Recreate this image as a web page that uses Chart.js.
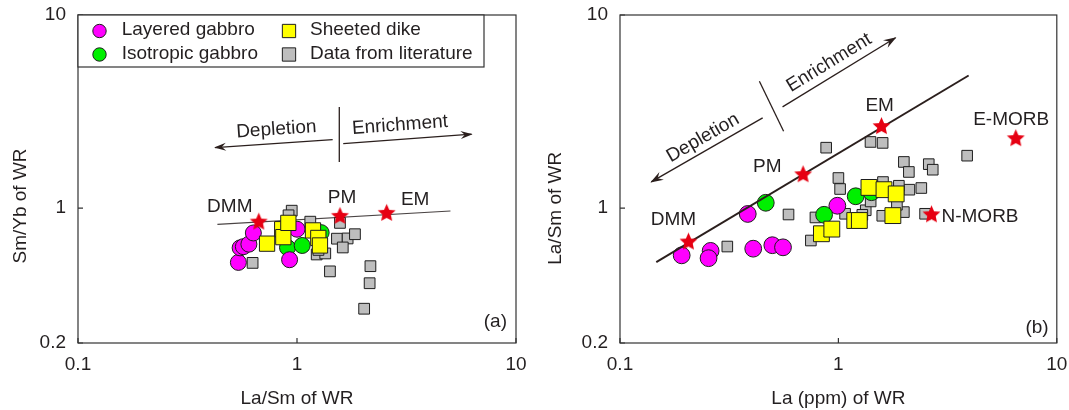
<!DOCTYPE html>
<html>
<head>
<meta charset="utf-8">
<script src="https://cdn.jsdelivr.net/npm/chart.js@4.4.1/dist/chart.umd.min.js"></script>
<style>
  html, body { margin: 0; padding: 0; background: #fff; }
  #fig { position: relative; width: 1069px; height: 410px; overflow: hidden; background: #fff; }
  #fig canvas { position: absolute; top: 0; }
</style>
</head>
<body>
<div id="fig">
  <canvas id="panelA" width="540" height="410" style="left:0"></canvas>
  <canvas id="panelB" width="529" height="410" style="left:540px"></canvas>
</div>
<script>
// ---------- shared axis ticks ----------
const xTickValues = [0.1, 1, 10];
const xTickLabels = ['0.1', '1', '10'];
const yTickValues = [0.2, 1, 10];
const yTickLabels = ['0.2', '1', '10'];

// ---------- panel (a): Sm/Yb vs La/Sm ----------
const layeredA = [[0.540,0.523],[0.550,0.622],[0.569,0.631],[0.603,0.650],[0.632,0.743],[0.925,0.540],[1.000,0.777]];
const isotropicA = [[0.905,0.624],[1.056,0.640],[1.289,0.746]];
const dikeA = [[0.730,0.654],[0.856,0.777],[0.866,0.707],[0.913,0.838],[1.183,0.766],[1.251,0.700],[1.273,0.640]];
const literatureA = [[0.946,0.969],[0.915,0.917],[1.150,0.850],[1.571,0.838],[1.522,0.694],[1.703,0.696],[1.618,0.625],
  [1.839,0.732],[1.230,0.575],[1.346,0.582],[1.414,0.470],[0.627,0.520],[2.164,0.500],[2.146,0.408],[2.026,0.301],[1.253,0.607]];
const reservoirNamesA = ['DMM', 'PM', 'EM'];
const reservoirsA = [[0.669,0.846],[1.571,0.906],[2.566,0.939]];
const trendA = [[0.433,0.823],[5.02,0.965]];
const depletionA = [[1.455,2.264],[0.4225,2.058]];
const enrichmentA = [[1.626,2.159],[6.27,2.413]];
const dividerA = [[1.56,3.34],[1.56,1.733]];

// ---------- panel (b): La/Sm vs La ----------
const layeredB = [[0.1916,0.569],[0.260,0.600],[0.2544,0.550],[0.3845,0.932],[0.4074,0.616],[0.4983,0.642],[0.5576,0.626],[0.989,1.028]];
const isotropicB = [[0.465,1.065],[0.860,0.923],[1.200,1.151],[1.417,1.208]];
const dikeB = [[0.836,0.736],[0.933,0.778],[1.188,0.862],[1.247,0.862],[1.380,1.279],[1.617,1.245],[1.839,1.184],[1.776,0.914]];
const literatureB = [[0.310,0.632],[0.591,0.926],[0.748,0.679],[0.785,0.894],[0.879,2.055],[1.000,1.431],[1.018,1.255],
  [1.403,2.200],[1.594,2.175],[1.994,1.733],[2.102,1.538],[2.593,1.688],[2.704,1.580],[2.397,1.270],[2.113,1.245],
  [3.886,1.868],[1.600,1.364],[1.892,1.305],[1.334,0.974],[1.287,0.923],[1.588,0.912],[1.994,0.953],[2.494,0.934],
  [1.405,1.082],[1.073,0.934],[1.853,1.040]];
const reservoirNamesB = ['DMM', 'PM', 'EM', 'E-MORB', 'N-MORB'];
const reservoirsB = [[0.2058,0.667],[0.689,1.488],[1.575,2.642],[6.49,2.289],[2.668,0.923]];
const trendB = [[0.1466,0.5247],[3.948,4.859]];
const enrichmentB = [[0.555,3.342],[1.827,7.625]];
const depletionB = [[0.45,2.931],[0.139,1.366]];
const dividerB = [[0.4347,4.54],[0.5612,2.498]];

// ---------- styling ----------
const FONT = "'Liberation Sans', Arial, Helvetica, sans-serif";
const INK = '#231f20';
const FRAME = '#333333';
const ARROW = '#2b1f1d';
Chart.defaults.font.family = FONT;
Chart.defaults.font.size = 19;
Chart.defaults.color = INK;

// filled five-pointed star used as a point style
function starImage(R, fill) {
  const size = Math.ceil(R * 2) + 2;
  const c = document.createElement('canvas');
  c.width = size; c.height = size;
  const g = c.getContext('2d');
  const cx = size / 2, cy = size / 2;
  g.beginPath();
  for (let i = 0; i < 10; i++) {
    const r = i % 2 === 0 ? R : R * 0.47;
    const a = -Math.PI / 2 + i * Math.PI / 5;
    g.lineTo(cx + r * Math.cos(a), cy + r * Math.sin(a));
  }
  g.closePath();
  g.fillStyle = fill;
  g.fill();
  return c;
}
const STAR = starImage(9.4, '#e60012');

const toXY = arr => arr.map(([x, y]) => ({ x, y }));

function pointsSet(key, label, arr, style, radius, fill, order) {
  return { key, label, data: toXY(arr), pointStyle: style, pointRadius: radius,
    backgroundColor: fill, borderColor: '#1e1e1e', borderWidth: 1, order, showLine: false };
}
function starSet(arr) {
  return { key: 'stars', data: toXY(arr), pointStyle: STAR, pointRadius: 9, borderWidth: 0, order: 0, showLine: false };
}
function lineSet(key, arr, width, color, order, head) {
  return { key, data: toXY(arr), showLine: true, pointRadius: 0, borderColor: color, borderWidth: width,
    fill: false, tension: 0, order, arrowHead: head || null };
}

function axes(xTitle, yWidth) {
  return {
    x: {
      type: 'logarithmic', position: 'bottom', min: 0.1, max: 10, bounds: 'data',
      grid: { display: false, drawTicks: false }, border: { display: false },
      afterBuildTicks: s => { s.ticks = xTickValues.map(v => ({ value: v })); },
      afterFit: s => { s.height = 67; s.paddingLeft = 0; s.paddingRight = 0; },
      ticks: { padding: 10.5, color: INK, font: { size: 19 }, maxRotation: 0, autoSkip: false,
        callback: (v, i) => xTickLabels[i] },
      title: { display: true, text: xTitle, color: INK, font: { size: 19 }, padding: { top: 0, bottom: 0 } }
    },
    y: {
      type: 'logarithmic', position: 'left', min: 0.2, max: 10, bounds: 'data',
      grid: { display: false, drawTicks: false }, border: { display: false },
      afterBuildTicks: s => { s.ticks = yTickValues.map(v => ({ value: v })); },
      afterFit: s => { s.width = yWidth; s.paddingTop = 0; s.paddingBottom = 0; },
      ticks: { padding: 12, color: INK, font: { size: 19 }, autoSkip: false,
        callback: (v, i) => yTickLabels[i] },
      title: { display: false }
    }
  };
}

// plot frame with short inward tick marks
const framePlugin = {
  id: 'frame',
  beforeDatasetsDraw(chart) {
    const { ctx, chartArea: a, scales } = chart;
    ctx.save();
    ctx.strokeStyle = FRAME;
    ctx.lineWidth = 1.2;
    ctx.strokeRect(a.left, a.top, a.right - a.left, a.bottom - a.top);
    ctx.beginPath();
    scales.x.ticks.forEach(t => {
      const px = scales.x.getPixelForValue(t.value);
      ctx.moveTo(px, a.bottom); ctx.lineTo(px, a.bottom - 5);
    });
    scales.y.ticks.forEach(t => {
      const py = scales.y.getPixelForValue(t.value);
      ctx.moveTo(a.left, py); ctx.lineTo(a.left + 5, py);
    });
    ctx.stroke();
    ctx.restore();
  }
};

// barbed heads on the trend arrows
const arrowPlugin = {
  id: 'arrowHeads',
  afterDatasetsDraw(chart) {
    const ctx = chart.ctx;
    chart.data.datasets.forEach((ds, i) => {
      if (!ds.arrowHead) return;
      const pts = chart.getDatasetMeta(i).data;
      const p0 = pts[pts.length - 2], p1 = pts[pts.length - 1];
      const ang = Math.atan2(p1.y - p0.y, p1.x - p0.x);
      const L = ds.arrowHead.length, W = ds.arrowHead.width;
      ctx.save();
      ctx.translate(p1.x, p1.y);
      ctx.rotate(ang);
      ctx.fillStyle = ds.borderColor;
      ctx.beginPath();
      ctx.moveTo(1, 0);
      ctx.lineTo(-L, -W / 2);
      ctx.lineTo(-L * 0.62, 0);
      ctx.lineTo(-L, W / 2);
      ctx.closePath();
      ctx.fill();
      ctx.restore();
    });
  }
};

// text: arrow captions, reservoir names, panel tag and vertical axis title
const notesPlugin = {
  id: 'notes',
  afterDatasetsDraw(chart, args, o) {
    const { ctx, chartArea: a, scales: { x, y } } = chart;
    const dsIndex = key => chart.data.datasets.findIndex(d => d.key === key);
    ctx.save();
    ctx.fillStyle = INK;
    ctx.font = `19px ${FONT}`;
    ctx.textBaseline = 'middle';
    (o.captions || []).forEach(n => {
      const px = x.getPixelForValue(n.at[0]), py = y.getPixelForValue(n.at[1]);
      const pts = chart.getDatasetMeta(dsIndex(n.along)).data;
      let ang = Math.atan2(pts[1].y - pts[0].y, pts[1].x - pts[0].x);
      if (Math.abs(ang) > Math.PI / 2) ang += Math.PI;
      ctx.save();
      ctx.translate(px, py);
      ctx.rotate(ang);
      ctx.textAlign = 'center';
      ctx.fillText(n.text, 0, 0);
      ctx.restore();
    });
    if (o.names) {
      const pts = chart.getDatasetMeta(dsIndex('stars')).data;
      o.names.forEach((name, i) => {
        const off = o.nameOffsets[i];
        ctx.textAlign = off[2] || 'center';
        ctx.fillText(name, pts[i].x + off[0], pts[i].y + off[1]);
      });
    }
    if (o.tag) {
      ctx.textAlign = 'right';
      ctx.fillText(o.tag.text, a.right + o.tag.dx, a.bottom + o.tag.dy);
    }
    if (o.yTitle) {
      ctx.save();
      ctx.translate(o.yTitle.x, o.yTitle.y);
      ctx.rotate(-Math.PI / 2);
      ctx.textAlign = 'center';
      ctx.fillText(o.yTitle.text, 0, 0);
      ctx.restore();
    }
    ctx.restore();
  }
};

// boxed two-column legend in the upper-left corner of the plot
const boxLegend = {
  id: 'boxLegend',
  afterDraw(chart, args, o) {
    if (!o.items) return;
    const { ctx, chartArea: a } = chart;
    ctx.save();
    ctx.fillStyle = '#fff';
    ctx.fillRect(a.left, a.top, o.width, o.height);
    ctx.strokeStyle = FRAME;
    ctx.lineWidth = 1.2;
    ctx.strokeRect(a.left, a.top, o.width, o.height);
    ctx.font = `19px ${FONT}`;
    ctx.textBaseline = 'middle';
    ctx.textAlign = 'left';
    o.items.forEach(it => {
      const ds = chart.data.datasets.find(d => d.key === it.key);
      const mx = a.left + o.markerX[it.col], my = a.top + o.markerY[it.row];
      ctx.fillStyle = ds.backgroundColor;
      ctx.strokeStyle = ds.borderColor;
      ctx.lineWidth = 1;
      ctx.beginPath();
      if (ds.pointStyle === 'circle') {
        ctx.arc(mx, my, it.size / 2, 0, Math.PI * 2);
      } else {
        ctx.rect(mx - it.size / 2, my - it.size / 2, it.size, it.size);
      }
      ctx.fill();
      ctx.stroke();
      ctx.fillStyle = INK;
      ctx.fillText(ds.label, a.left + o.textX[it.col], a.top + o.textY[it.row]);
    });
    ctx.restore();
  }
};

const MAGENTA = '#ff00ff', GREEN = '#00f000', YELLOW = '#ffff00', GREY = '#bebebe';

// ---------- chart (a) ----------
new Chart(document.getElementById('panelA'), {
  type: 'scatter',
  data: {
    datasets: [
      starSet(reservoirsA),
      pointsSet('dike', 'Sheeted dike', dikeA, 'rect', 10.8, YELLOW, 1),
      pointsSet('layered', 'Layered gabbro', layeredA, 'circle', 8, MAGENTA, 2),
      pointsSet('isotropic', 'Isotropic gabbro', isotropicA, 'circle', 8, GREEN, 3),
      pointsSet('literature', 'Data from literature', literatureA, 'rect', 7.6, GREY, 4),
      lineSet('depletion', depletionA, 1.3, ARROW, 5, { length: 11, width: 8 }),
      lineSet('enrichment', enrichmentA, 1.3, ARROW, 5, { length: 11, width: 8 }),
      lineSet('divider', dividerA, 1.3, ARROW, 5),
      lineSet('trend', trendA, 1.1, '#4a4444', 6)
    ]
  },
  options: {
    responsive: false, animation: false, devicePixelRatio: 1, events: [],
    layout: { padding: { left: 0, right: 24, top: 15, bottom: 0 } },
    scales: axes('La/Sm of WR', 78),
    plugins: {
      legend: { display: false }, tooltip: { enabled: false },
      notes: {
        captions: [
          { text: 'Depletion', at: [0.805, 2.552], along: 'depletion' },
          { text: 'Enrichment', at: [2.951, 2.687], along: 'enrichment' }
        ],
        names: reservoirNamesA,
        nameOffsets: [[-29, -15], [2, -18.5], [28.5, -14]],
        tag: { text: '(a)', dx: -9, dy: -21.5 },
        yTitle: { text: 'Sm/Yb of WR', x: 21, y: 206 }
      },
      boxLegend: {
        width: 406, height: 52,
        markerX: [21.5, 211], markerY: [16, 39.5],
        textX: [43.7, 232], textY: [14.3, 38.3],
        items: [
          { key: 'layered', col: 0, row: 0, size: 13.4 },
          { key: 'isotropic', col: 0, row: 1, size: 13.4 },
          { key: 'dike', col: 1, row: 0, size: 13.3 },
          { key: 'literature', col: 1, row: 1, size: 13.3 }
        ]
      }
    }
  },
  plugins: [framePlugin, arrowPlugin, notesPlugin, boxLegend]
});

// ---------- chart (b) ----------
new Chart(document.getElementById('panelB'), {
  type: 'scatter',
  data: {
    datasets: [
      starSet(reservoirsB),
      lineSet('trend', trendB, 2, ARROW, 1),
      pointsSet('dike', 'Sheeted dike', dikeB, 'rect', 11.2, YELLOW, 2),
      pointsSet('isotropic', 'Isotropic gabbro', isotropicB, 'circle', 8.4, GREEN, 3),
      pointsSet('layered', 'Layered gabbro', layeredB, 'circle', 8.4, MAGENTA, 4),
      pointsSet('literature', 'Data from literature', literatureB, 'rect', 7.5, GREY, 5),
      lineSet('enrichment', enrichmentB, 1.3, ARROW, 6, { length: 12, width: 9 }),
      lineSet('depletion', depletionB, 1.3, ARROW, 6, { length: 12, width: 9 }),
      lineSet('divider', dividerB, 1.3, ARROW, 6)
    ]
  },
  options: {
    responsive: false, animation: false, devicePixelRatio: 1, events: [],
    layout: { padding: { left: 0, right: 11, top: 15, bottom: 0 } },
    scales: axes('La (ppm) of WR', 80),
    plugins: {
      legend: { display: false }, tooltip: { enabled: false },
      notes: {
        captions: [
          { text: 'Enrichment', at: [0.907, 5.655], along: 'enrichment' },
          { text: 'Depletion', at: [0.2397, 2.308], along: 'depletion' }
        ],
        names: reservoirNamesB,
        nameOffsets: [[-15, -22], [-35.7, -8.3], [-1.8, -21.3], [-4.6, -19], [10, 1.7, 'left']],
        tag: { text: '(b)', dx: -8.2, dy: -15.5 },
        yTitle: { text: 'La/Sm of WR', x: 15.8, y: 208.3 }
      }
    }
  },
  plugins: [framePlugin, arrowPlugin, notesPlugin]
});
</script>
</body>
</html>
